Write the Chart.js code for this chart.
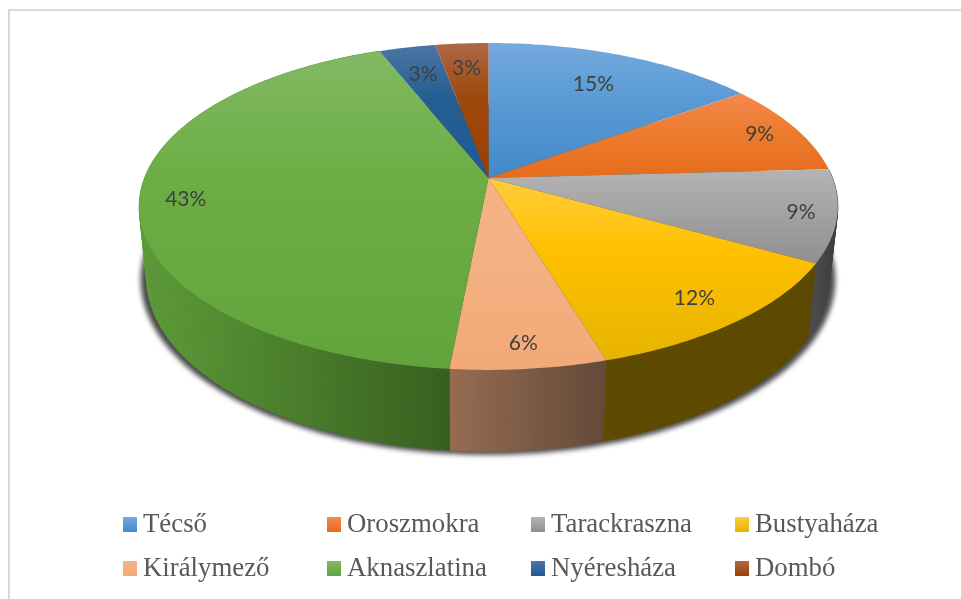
<!DOCTYPE html>
<html>
<head>
<meta charset="utf-8">
<title>Pie chart</title>
<script src="https://cdn.jsdelivr.net/npm/chart.js@4/dist/chart.umd.js"></script>
<style>
    html, body { margin: 0; padding: 0; background: #fff; overflow: hidden; }
    #frame { position: absolute; left: 8px; top: 9px; width: 953px; height: 590px; border-left: 2px solid #d9d9d9; border-top: 2px solid #d9d9d9; box-sizing: border-box; }
    canvas { position: absolute; left: 0; top: 0; }
</style>
</head>
<body>
<div id="frame"></div>
<canvas id="pieChart" width="961" height="599"></canvas>
<script>
// values
const categories = ["Técső", "Oroszmokra", "Tarackraszna", "Bustyaháza", "Királymező", "Aknaszlatina", "Nyéresháza", "Dombó"];
const shares = [15, 9.1, 9.1, 12.2, 6.1, 42.5, 3.1, 2.9];

const topColors = ["#74aade", "#f5894f", "#b4b4b4", "#ffcd3d", "#f5b285", "#82b964", "#4a76a4", "#ad6845"];
const midColors = ["#5b9bd5", "#ed7d31", "#a5a5a5", "#ffc000", "#f4b183", "#6cae44", "#255e91", "#9e480e"];
const lowColors = ["#4389c8", "#e56c1a", "#8f8f8f", "#e6b400", "#f2a977", "#63a33b", "#1f5a96", "#9c4002"];
const wallLeftColors = ["#2e5f8c", "#a04d18", "#4a4a4a", "#5f4b00", "#966c52", "#5d9c39", "#1a3f63", "#6a3009"];
const wallRightColors = ["#2e5f8c", "#a04d18", "#3c3c3c", "#5c4900", "#644a38", "#37601e", "#1a3f63", "#6a3009"];

// perspective of the disc: top face and bottom face of the cylinder
const topFace = { x: 488.5, y: 178, a: 344, b: 158.5, k: -0.174 };
const bottomFace = { x: 488, y: 248, a: 336, b: 168, k: -0.174 };

const labelRadius = [0.75, 0.88, 0.9, 0.85, 0.88, 0.87, 0.78, 0.8];
const legendColumns = [123, 327, 531, 735];
const legendRows = [517, 561];

function project(face, angle, r) {
    const u = r * Math.cos(angle);
    const v = r * Math.sin(angle);
    const w = 1 + face.k * v;
    return { x: face.x + face.a * u / w, y: face.y + face.b * v / w };
}

function traceEllipse(ctx, face) {
    ctx.beginPath();
    for (let t = 0; t <= 360; t++) {
        const p = project(face, t * Math.PI / 180, 1);
        ctx.lineTo(p.x, p.y);
    }
    ctx.closePath();
}

function arcPoints(face, start, end) {
    const steps = Math.max(2, Math.ceil((end - start) / (Math.PI / 180)));
    const points = [];
    for (let i = 0; i <= steps; i++) {
        points.push(project(face, start + (end - start) * i / steps, 1));
    }
    return points;
}

const disc3d = {
    id: "disc3d",

    // the library only works out the angles here, the flat circle is replaced
    beforeDatasetDraw(chart) {
        const ctx = chart.ctx;
        const arcs = chart.getDatasetMeta(0).data;

        // =========================
        // Shadow under the disc
        // =========================
        ctx.save();
        ctx.filter = "blur(2.5px)";
        ctx.fillStyle = "#4a4a4a";
        traceEllipse(ctx, { x: 488, y: 249, a: 342, b: 170, k: -0.174 });
        ctx.fill();
        ctx.restore();

        // =========================
        // Side wall
        // =========================
        arcs.forEach((arc, i) => {
            const upper = arcPoints(topFace, arc.startAngle, arc.endAngle);
            const lower = arcPoints(bottomFace, arc.startAngle, arc.endAngle);
            const xs = upper.map(p => p.x).filter((x, n) => upper[n].y > 200);
            if (xs.length === 0) return;

            const paint = ctx.createLinearGradient(Math.min(...xs), 0, Math.max(...xs), 0);
            paint.addColorStop(0, wallLeftColors[i]);
            paint.addColorStop(1, wallRightColors[i]);
            ctx.fillStyle = paint;
            ctx.strokeStyle = paint;
            ctx.lineWidth = 0.6;

            for (let n = 0; n < upper.length - 1; n++) {
                ctx.beginPath();
                ctx.moveTo(upper[n].x, upper[n].y);
                ctx.lineTo(upper[n + 1].x, upper[n + 1].y);
                ctx.lineTo(lower[n + 1].x, lower[n + 1].y);
                ctx.lineTo(lower[n].x, lower[n].y);
                ctx.closePath();
                ctx.fill();
                ctx.stroke();
            }
        });

        // =========================
        // Top face
        // =========================
        arcs.forEach((arc, i) => {
            const rim = arcPoints(topFace, arc.startAngle, arc.endAngle);
            const ys = rim.map(p => p.y).concat(topFace.y);
            const paint = ctx.createLinearGradient(0, Math.min(...ys), 0, Math.max(...ys));
            paint.addColorStop(0, topColors[i]);
            paint.addColorStop(0.4, midColors[i]);
            paint.addColorStop(1, lowColors[i]);

            ctx.fillStyle = paint;
            ctx.beginPath();
            ctx.moveTo(topFace.x, topFace.y);
            rim.forEach(p => ctx.lineTo(p.x, p.y));
            ctx.closePath();
            ctx.fill();
        });

        return false;
    },

    afterDraw(chart) {
        const ctx = chart.ctx;
        const arcs = chart.getDatasetMeta(0).data;

        // =========================
        // Percent labels
        // =========================
        ctx.save();
        ctx.font = '21px Lato, "Open Sans", sans-serif';
        ctx.fillStyle = "#404040";
        ctx.textAlign = "center";
        ctx.textBaseline = "middle";
        arcs.forEach((arc, i) => {
            const p = project(topFace, (arc.startAngle + arc.endAngle) / 2, labelRadius[i]);
            ctx.fillText(Math.round(shares[i]) + "%", p.x, p.y + 1);
        });

        // =========================
        // Legend
        // =========================
        ctx.font = '26.8px "Liberation Serif", serif';
        ctx.textAlign = "left";
        ctx.textBaseline = "alphabetic";
        categories.forEach((name, i) => {
            const x = legendColumns[i % 4];
            const y = legendRows[Math.floor(i / 4)];
            const paint = ctx.createLinearGradient(0, y, 0, y + 15);
            paint.addColorStop(0, topColors[i]);
            paint.addColorStop(1, lowColors[i]);
            ctx.fillStyle = paint;
            ctx.fillRect(x, y, 14, 15);
            ctx.fillStyle = "#595959";
            ctx.fillText(name, x + 20, y + 15);
        });
        ctx.restore();
    }
};

document.addEventListener("DOMContentLoaded", function () {

    new Chart(document.getElementById("pieChart"), {
        type: "pie",
        data: {
            labels: categories,
            datasets: [{
                data: shares,
                backgroundColor: midColors,
                borderWidth: 0
            }]
        },
        options: {
            responsive: false,
            animation: false,
            plugins: {
                legend: { display: false },
                tooltip: { enabled: false }
            }
        },
        plugins: [disc3d]
    });

});
</script>
</body>
</html>
